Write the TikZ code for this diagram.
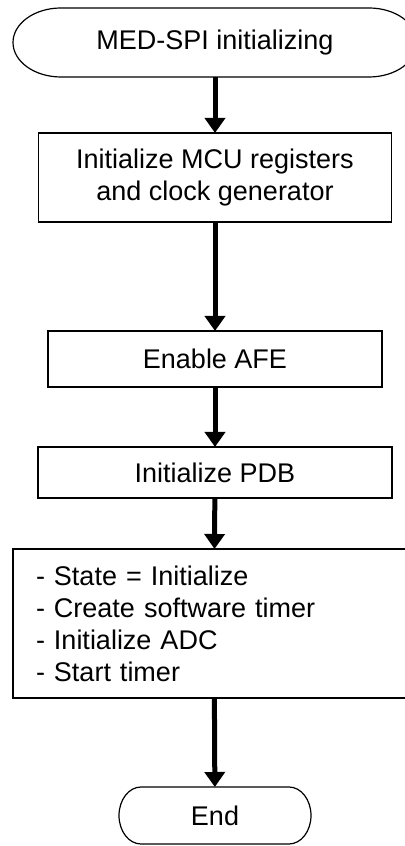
\documentclass[tikz,border=0pt]{standalone}
\usepackage{fontspec}
\setmainfont{Liberation Sans}
\usetikzlibrary{arrows.meta}
\tikzset{
    stepBox/.style={rectangle, draw, line width=0.6pt, inner sep=0pt, outer sep=0pt, align=center, font=\fontsize{13.5}{16}\selectfont},
    termNode/.style={rectangle, inner sep=0pt, outer sep=0pt, font=\fontsize{13.5}{16}\selectfont},
    termLine/.style={line width=0.6pt},
    flowArrow/.style={-{Triangle[width=10pt, length=7.5pt]}, line width=2.5pt},
}
\newcommand{\drawTerm}[3]{
    % rounded ends left and right of the node
    \draw[termLine] (#1.north west)
        arc[start angle=90, end angle=270, x radius=#2, y radius=#3]
        -- (#1.south east)
        arc[start angle=-90, end angle=90, x radius=#2, y radius=#3]
        -- cycle;
}

\begin{document}
\begin{tikzpicture}[x=0.5pt, y=0.5pt]
        \useasboundingbox (0,0) rectangle (404,846);

        \node[termNode, minimum width=154pt, minimum height=34.5pt] (start) at (215, 803.5) {MED-SPI initializing};
        \node[stepBox, minimum width=176.5pt, minimum height=44.5pt] (mcu) at (215, 668.5) {Initialize MCU registers\\and clock generator};
        \node[stepBox, minimum width=167pt, minimum height=28pt] (afe) at (215, 487) {Enable AFE};
        \node[stepBox, minimum width=177pt, minimum height=25.5pt] (pdb) at (215, 373.5) {Initialize PDB};
        \node[stepBox, align=left, text width=178pt, inner xsep=11.5pt, minimum height=74.5pt] (tasks) at (214, 222.5)
            {- State = Initialize\\- Create software timer\\- Initialize ADC\\- Start timer};
        \node[termNode, minimum width=74pt, minimum height=28.5pt] (end) at (215, 30.5) {End};

        \drawTerm{start}{24pt}{17.25pt}
        \drawTerm{end}{11pt}{14.25pt}

        \draw[flowArrow] (start) -- (mcu);
        \draw[flowArrow] (mcu) -- (afe);
        \draw[flowArrow] (afe) -- (pdb);
        \draw[flowArrow] (pdb) -- (tasks);
        \draw[flowArrow] (tasks) -- (end);

    \end{tikzpicture}
\end{document}
